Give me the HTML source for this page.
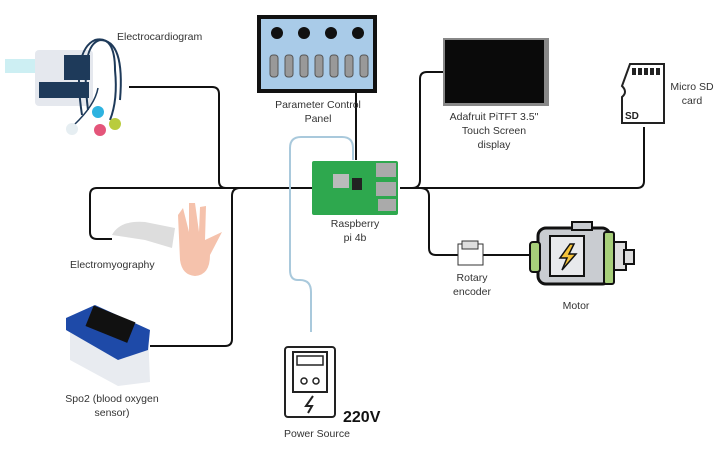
<!DOCTYPE html>
<html><head><meta charset="utf-8"><style>
html,body{margin:0;padding:0;background:#fff;width:718px;height:474px;overflow:hidden}
text{font-family:"Liberation Sans",sans-serif;font-size:10.5px;fill:#333}
</style></head><body>
<svg width="718" height="474" viewBox="0 0 718 474" xmlns="http://www.w3.org/2000/svg">
<g fill="none" stroke="#111" stroke-width="2">
<path d="M129 87 H212 Q219 87 219 94 V181 Q219 188 226 188 H312"/>
<path d="M312 188 H97 Q90 188 90 195 V232 Q90 239 97 239 H112"/>
<path d="M240 188 Q232 188 232 196 V339 Q232 346 225 346 H150"/>
<path d="M400 188 H637 Q644 188 644 181 V127"/>
<path d="M412 188 Q420 188 420 180 V79 Q420 72 427 72 H443"/>
<path d="M420 188 Q429 188 429 196 V248 Q429 255 436 255 H530"/>
<path d="M356 92 V160"/>
</g>
<path d="M311 332 V292 Q311 280 300 280 H298 Q290 280 290 270 V148 Q290 137 301 137 H342 Q353 137 353 148 V160" fill="none" stroke="#a9c9dc" stroke-width="2"/>

<rect x="259" y="17" width="116" height="74" fill="#a9cbe8" stroke="#111" stroke-width="4"/>
<g fill="#111"><circle cx="277" cy="33" r="6"/><circle cx="304" cy="33" r="6"/><circle cx="331" cy="33" r="6"/><circle cx="358" cy="33" r="6"/></g>
<g fill="#999" stroke="#555" stroke-width="1">
<rect x="270" y="55" width="8" height="22" rx="3"/><rect x="285" y="55" width="8" height="22" rx="3"/><rect x="300" y="55" width="8" height="22" rx="3"/><rect x="315" y="55" width="8" height="22" rx="3"/><rect x="330" y="55" width="8" height="22" rx="3"/><rect x="345" y="55" width="8" height="22" rx="3"/><rect x="360" y="55" width="8" height="22" rx="3"/></g>
<text x="318" y="108" text-anchor="middle">Parameter Control</text>
<text x="318" y="122" text-anchor="middle">Panel</text>

<!-- ECG device -->
<rect x="5" y="59" width="48" height="14" fill="#cdeff3"/>
<rect x="35" y="50" width="58" height="56" rx="4" fill="#e5e8ee"/>
<rect x="64" y="55" width="26" height="25" fill="#1e3a5a"/>
<rect x="39" y="82" width="50" height="16" fill="#1e3a5a"/>
<path d="M82 115 Q72 50 95 40 Q115 35 115 70 Q118 100 110 120" fill="none" stroke="#1e3a5a" stroke-width="2"/>
<path d="M88 110 Q80 45 100 40 Q125 40 120 100" fill="none" stroke="#1e3a5a" stroke-width="2"/>
<path d="M74 125 Q95 105 98 88" fill="none" stroke="#1e3a5a" stroke-width="1.5"/>
<circle cx="72" cy="129" r="6" fill="#e6eef2"/><circle cx="98" cy="112" r="6" fill="#2eb3e0"/><circle cx="100" cy="130" r="6" fill="#e4557a"/><circle cx="115" cy="124" r="6" fill="#b9cc3c"/>
<text x="117" y="40">Electrocardiogram</text>

<path d="M112 235 Q120 220 145 222 L175 228 L172 248 L145 240 Z" fill="#ddd"/>
<path d="M178 215 L180 260 Q182 275 195 276 Q210 275 210 255 L222 232 L205 240 L206 206 L200 207 L199 232 L195 203 L189 203 L189 232 L183 208 Z" fill="#f5c2ac"/>
<text x="70" y="268">Electromyography</text>

<path d="M70 320 L95 306 L148 330 L150 382 L118 386 L70 360 Z" fill="#e8ebf0"/>
<path d="M66 318 L95 305 L150 330 L148 350 L118 360 L66 330 Z" fill="#1e4aa8"/>
<rect x="88" y="313" width="45" height="22" fill="#111" transform="rotate(22 110 324)"/>
<text x="112" y="402" text-anchor="middle">Spo2 (blood oxygen</text>
<text x="112" y="416" text-anchor="middle">sensor)</text>

<rect x="312" y="161" width="86" height="54" rx="2" fill="#2ea84e"/>
<rect x="376" y="163" width="20" height="14" fill="#aaa"/><rect x="376" y="182" width="20" height="14" fill="#aaa"/><rect x="378" y="199" width="18" height="12" fill="#aaa"/>
<rect x="333" y="174" width="16" height="14" fill="#bbb"/><rect x="352" y="178" width="10" height="12" fill="#222"/>
<text x="355" y="227" text-anchor="middle">Raspberry</text>
<text x="355" y="241" text-anchor="middle">pi 4b</text>

<rect x="443" y="38" width="106" height="68" fill="#888"/>
<rect x="445" y="40" width="99" height="63" fill="#0a0a0a"/>
<text x="494" y="120" text-anchor="middle">Adafruit PiTFT 3.5"</text>
<text x="494" y="134" text-anchor="middle">Touch Screen</text>
<text x="494" y="148" text-anchor="middle">display</text>

<path d="M630 64 H664 V123 H622 V97 Q628 92 622 86 Z" fill="#fff" stroke="#222" stroke-width="2"/>
<g fill="#222"><rect x="632" y="68" width="4" height="7"/><rect x="638" y="68" width="4" height="7"/><rect x="644" y="68" width="4" height="7"/><rect x="650" y="68" width="4" height="7"/><rect x="656" y="68" width="4" height="7"/></g>
<text x="625" y="119" style="font-weight:bold;font-size:10px;fill:#222">SD</text>
<text x="692" y="90" text-anchor="middle">Micro SD</text>
<text x="692" y="104" text-anchor="middle">card</text>

<rect x="458" y="244" width="25" height="21" fill="#fff" stroke="#333" stroke-width="1"/>
<rect x="462" y="241" width="16" height="8" fill="#ddd" stroke="#333" stroke-width="1"/>
<text x="472" y="281" text-anchor="middle">Rotary</text>
<text x="472" y="295" text-anchor="middle">encoder</text>

<rect x="538" y="228" width="72" height="56" rx="8" fill="#c9ccd1" stroke="#111" stroke-width="3"/>
<rect x="530" y="242" width="10" height="30" rx="3" fill="#a7cf7a" stroke="#111" stroke-width="2"/>
<rect x="604" y="232" width="10" height="52" rx="2" fill="#a7cf7a" stroke="#111" stroke-width="2"/>
<rect x="614" y="242" width="12" height="28" fill="#ddd" stroke="#111" stroke-width="2"/>
<rect x="624" y="250" width="10" height="14" fill="#ddd" stroke="#111" stroke-width="2"/>
<rect x="550" y="236" width="34" height="40" fill="#e8e9ec" stroke="#111" stroke-width="2"/>
<path d="M570 244 L560 258 H567 L562 270 L576 254 H569 L574 244 Z" fill="#f5c33a" stroke="#111" stroke-width="1.5"/>
<rect x="572" y="222" width="20" height="8" fill="#c9ccd1" stroke="#111" stroke-width="2"/>
<text x="576" y="309" text-anchor="middle">Motor</text>

<rect x="285" y="347" width="50" height="70" rx="3" fill="#fff" stroke="#222" stroke-width="2"/>
<rect x="293" y="352" width="34" height="40" fill="#fff" stroke="#222" stroke-width="2"/>
<rect x="297" y="356" width="26" height="9" fill="#fff" stroke="#222" stroke-width="1.5"/>
<circle cx="304" cy="381" r="3" fill="none" stroke="#222" stroke-width="1.5"/><circle cx="316" cy="381" r="3" fill="none" stroke="#222" stroke-width="1.5"/>
<path d="M313 396 L306 406 H312 L308 413" fill="none" stroke="#222" stroke-width="2"/>
<text x="343" y="422" style="font-weight:bold;font-size:16px;fill:#111">220V</text>
<text x="284" y="437">Power Source</text>
</svg>
</body></html>
